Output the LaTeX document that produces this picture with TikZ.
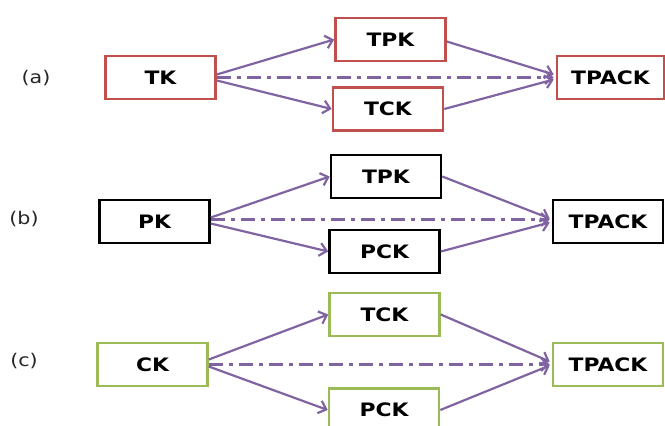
\documentclass[tikz,border=0pt]{standalone}
\usepackage{fontspec}
\setmainfont{DejaVu Sans}[FakeStretch=1.18]
\usetikzlibrary{arrows.meta}
\definecolor{boxred}{HTML}{C0504D}
\definecolor{boxgreen}{HTML}{9BBB59}
\definecolor{arrpurple}{HTML}{8064A2}
\definecolor{labgray}{HTML}{262626}
\begin{document}
\begin{tikzpicture}[x=1pt,y=-1pt,
  kbox/.style={draw, line width=2.6pt, fill=white, minimum width=110pt, minimum height=43pt,
    inner sep=0pt, font=\bfseries\fontsize{18.5}{21}\selectfont, text=black},
  redbox/.style={kbox, draw=boxred},
  blackbox/.style={kbox, draw=black},
  greenbox/.style={kbox, draw=boxgreen},
  rowlabel/.style={font=\fontsize{17.5}{20}\selectfont, text=labgray},
  arr/.style={draw=arrpurple, line width=2.2pt, -{Straight Barb[length=7pt,width=13pt,line width=2.2pt]}},
  dasharr/.style={arr, dash pattern=on 14pt off 6pt on 4pt off 6pt}]
\useasboundingbox (0,0) rectangle (665,426);
\clip (0,0) rectangle (665,426);
% row (a)
\node[rowlabel] (la) at (36,78) {(a)};
\node[redbox] (tk) at (160.5,77.5) {TK};
\node[redbox] (tpka) at (390.5,39.5) {TPK};
\node[redbox] (tcka) at (388,109) {TCK};
\node[redbox, minimum width=107pt] (tpacka) at (610.5,77.5) {TPACK};
\draw[arr] ([yshift=3pt]tk.east) -- (tpka.west);
\draw[arr] ([yshift=-3pt]tk.east) -- (tcka.west);
\draw[dasharr] (tk.east) -- ([xshift=-2pt]tpacka.west);
\draw[arr] ([yshift=-2pt]tpka.east) -- ([xshift=-2pt,yshift=3pt]tpacka.west);
\draw[arr] (tcka.east) -- ([xshift=-2pt,yshift=-2pt]tpacka.west);
% row (b)
\node[rowlabel] (lb) at (24,219) {(b)};
\node[blackbox] (pk) at (154.5,221.5) {PK};
\node[blackbox] (tpkb) at (386,176.5) {TPK};
\node[blackbox] (pckb) at (384.5,251.5) {PCK};
\node[blackbox] (tpackb) at (608,221.5) {TPACK};
\draw[arr] ([yshift=4pt]pk.east) -- (tpkb.west);
\draw[arr] ([yshift=-2pt]pk.east) -- (pckb.west);
\draw[dasharr] ([yshift=2pt]pk.east) -- ([xshift=-2pt,yshift=2pt]tpackb.west);
\draw[arr] (tpkb.east) -- ([xshift=-2pt,yshift=3pt]tpackb.west);
\draw[arr] (pckb.east) -- ([xshift=-2pt,yshift=-1pt]tpackb.west);
% row (c)
\node[rowlabel] (lc) at (24,361) {(c)};
\node[greenbox] (ck) at (152.5,364.5) {CK};
\node[greenbox] (tckc) at (384.5,314.5) {TCK};
\node[greenbox] (pckc) at (384,410) {PCK};
\node[greenbox] (tpackc) at (608,364.5) {TPACK};
\draw[arr] ([yshift=5pt]ck.east) -- (tckc.west);
\draw[arr] ([yshift=-2pt]ck.east) -- (pckc.west);
\draw[dasharr] (ck.east) -- ([xshift=-2pt]tpackc.west);
\draw[arr] (tckc.east) -- ([xshift=-2pt,yshift=3pt]tpackc.west);
\draw[arr] (pckc.east) -- ([xshift=-2pt,yshift=-1pt]tpackc.west);
\end{tikzpicture}
\end{document}
